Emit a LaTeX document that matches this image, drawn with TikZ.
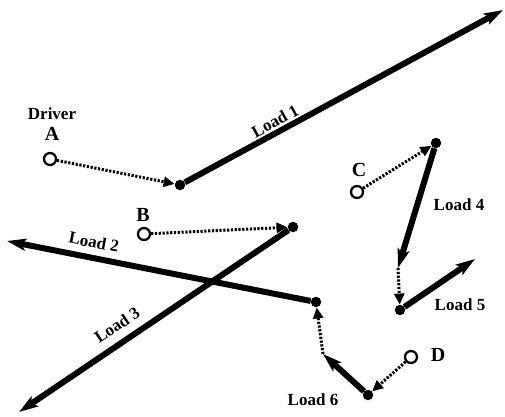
\documentclass[tikz,border=0pt]{standalone}
\usepackage{fontspec}
\setmainfont{Liberation Serif}
\usetikzlibrary{arrows.meta}
\begin{document}
\begin{tikzpicture}[x=1pt,y=-1pt,
  drv/.style={circle,draw,line width=2.3pt,minimum size=12pt,inner sep=0pt},
  ldot/.style={circle,fill,minimum size=10.5pt,inner sep=0pt},
  load/.style={line width=6pt,-{Stealth[length=19pt,width=12pt,inset=4pt]}},
  link/.style={line width=3pt,dash pattern=on 2.2pt off 1.6pt,-{Triangle[length=11pt,width=10pt]}},
  lab/.style={font=\fontsize{17}{20}\selectfont\bfseries,inner sep=0pt},
  let/.style={font=\fontsize{20}{24}\selectfont\bfseries,inner sep=0pt}]
\useasboundingbox (0,0) rectangle (505,416);
% drivers
\node[drv] (A) at (50,159) {};
\node[drv] (B) at (144,234) {};
\node[drv] (C) at (357,192) {};
\node[drv] (D) at (411,357) {};
% load start dots
\node[ldot] (L1) at (180,185) {};
\node[ldot] (L3) at (293,227) {};
\node[ldot] (L2) at (316,302) {};
\node[ldot] (L4) at (436,143) {};
\node[ldot] (L5) at (400,310) {};
\node[ldot] (L6) at (368,395) {};
% load tips
\coordinate (T1) at (503,10);
\coordinate (T2) at (7,241);
\coordinate (T3) at (19,412);
\coordinate (T4) at (398,268);
\coordinate (T5) at (475,259);
\coordinate (T6) at (323,354);
% loads
\draw[load] (L1) -- (T1);
\draw[load] (L2) -- (T2);
\draw[load] (L3) -- (T3);
\draw[load] (L4) -- (T4);
\draw[load] (L5) -- (T5);
\draw[load] (L6) -- (T6);
% links
\draw[link] (A) -- (L1);
\draw[link] (B) -- (L3);
\draw[link] (C) -- (L4);
\draw[link] (T4) -- (L5);
\draw[link] (D) -- (L6);
\draw[link] (T6) -- (L2);
% labels
\node[lab] (dr) at (52,114) {Driver};
\node[let] (lA) at (52,134) {A};
\node[let] (lB) at (143,215) {B};
\node[let] (lC) at (359,170) {C};
\node[let] (lD) at (438,355) {D};
\node[lab,rotate=28.5] (n1) at (275,121) {Load 1};
\node[lab,rotate=-11] (n2) at (94,242) {Load 2};
\node[lab,rotate=34] (n3) at (117,325) {Load 3};
\node[lab] (n4) at (459,205) {Load 4};
\node[lab] (n5) at (460,305) {Load 5};
\node[lab] (n6) at (313,400) {Load 6};
\end{tikzpicture}
\end{document}
